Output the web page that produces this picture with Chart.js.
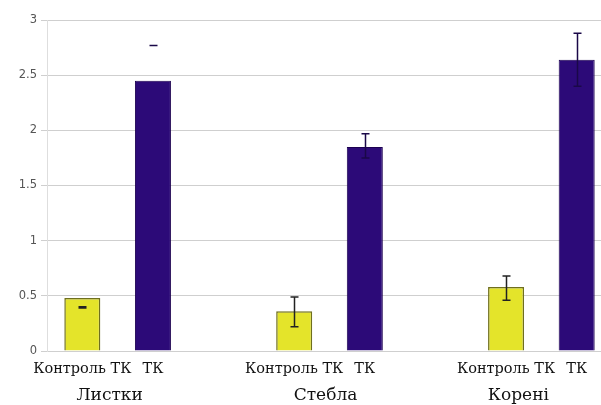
<!DOCTYPE html>
<html><head><meta charset="utf-8">
<script src="https://cdn.jsdelivr.net/npm/chart.js@4"></script>
<style>html,body{margin:0;padding:0;background:#fff;overflow:hidden;width:601px;height:405px}</style>
</head><body><canvas id="c" width="612" height="405"></canvas>
<script>
const groups = ['Листки', 'Стебла', 'Корені'];
const seriesNames = ['Контроль ТК', 'ТК'];
const controlValues = [0.48, 0.36, 0.58];
const tkValues = [2.45, 1.85, 2.64];
const controlErrLow = [0.39, 0.22, 0.46];
const controlErrHigh = [0.40, 0.49, 0.68];
const tkErrLow = [2.77, 1.75, 2.40];
const tkErrHigh = [2.77, 1.97, 2.88];
const yTickLabels = ['0', '0.5', '1', '1.5', '2', '2.5', '3'];

// layout constants
const groupLabelNudge = [-8, -4, -23];

// build 8 slots: control, tk, gap, control, tk, gap, control, tk
const slotLabels = [], ctrlData = [], tkData = [], ctrlLo = [], ctrlHi = [], tkLo = [], tkHi = [];
groups.forEach((g, i) => {
  slotLabels.push(seriesNames[0]); ctrlData.push(controlValues[i]); tkData.push(null);
  ctrlLo.push(controlErrLow[i]); ctrlHi.push(controlErrHigh[i]); tkLo.push(null); tkHi.push(null);
  slotLabels.push(seriesNames[1]); ctrlData.push(null); tkData.push(tkValues[i]);
  ctrlLo.push(null); ctrlHi.push(null); tkLo.push(tkErrLow[i]); tkHi.push(tkErrHigh[i]);
  if (i < groups.length - 1) {
    slotLabels.push(''); ctrlData.push(null); tkData.push(null);
    ctrlLo.push(null); ctrlHi.push(null); tkLo.push(null); tkHi.push(null);
  }
});

const errorBars = {
  id: 'errorBars',
  afterDatasetsDraw(chart) {
    const ctx = chart.ctx, y = chart.scales.y;
    const errs = [[ctrlLo, ctrlHi], [tkLo, tkHi]];
    chart.data.datasets.forEach((ds, di) => {
      const meta = chart.getDatasetMeta(di);
      meta.data.forEach((el, j) => {
        const lo = errs[di][0][j], hi = errs[di][1][j];
        if (lo == null || ds.data[j] == null) return;
        const x = Math.round(el.x) + 0.5;
        const yl = y.getPixelForValue(lo), yh = y.getPixelForValue(hi);
        ctx.save();
        ctx.strokeStyle = di === 0 ? '#222' : '#1a0848';
        ctx.lineWidth = 1.5;
        ctx.beginPath();
        ctx.moveTo(x, yl); ctx.lineTo(x, yh);
        ctx.moveTo(x - 4, yl); ctx.lineTo(x + 4, yl);
        ctx.moveTo(x - 4, yh); ctx.lineTo(x + 4, yh);
        ctx.stroke();
        ctx.restore();
      });
    });
  }
};

const groupLabels = {
  id: 'groupLabels',
  afterDraw(chart) {
    const ctx = chart.ctx, xs = chart.scales.x;
    ctx.save();
    ctx.font = '17px "DejaVu Serif"';
    ctx.fillStyle = '#111';
    ctx.textAlign = 'center';
    ctx.textBaseline = 'middle';
    groups.forEach((g, i) => {
      const x = (xs.getPixelForValue(3 * i) + xs.getPixelForValue(3 * i + 1)) / 2 + groupLabelNudge[i];
      ctx.fillText(g, x, 396);
    });
    ctx.restore();
  }
};

new Chart(document.getElementById('c'), {
  type: 'bar',
  data: {
    labels: slotLabels,
    datasets: [
      { label: seriesNames[0], data: ctrlData, backgroundColor: '#e4e42a', borderColor: '#6f6f1e', borderWidth: 1.5 },
      { label: seriesNames[1], data: tkData, backgroundColor: '#2c0a78', borderColor: '#1c0050', borderWidth: 1 }
    ]
  },
  options: {
    responsive: false,
    animation: false,
    devicePixelRatio: 1,
    layout: { padding: { top: 20, left: 0, right: 0, bottom: 0 } },
    plugins: { legend: { display: false }, tooltip: { enabled: false } },
    datasets: { bar: { grouped: false, categoryPercentage: 1, barPercentage: 0.51 } },
    scales: {
      x: {
        grid: { display: false },
        border: { display: false },
        ticks: { color: '#111', font: { family: '"DejaVu Serif"', size: 14.5 }, padding: 2, maxRotation: 0, autoSkip: false },
        afterFit(s) { s.height = 54; }
      },
      y: {
        min: 0, max: 3,
        grid: { color: '#cfcfcf', tickLength: 6 },
        border: { color: '#dedede' },
        ticks: { stepSize: 0.5, color: '#555', font: { family: '"DejaVu Sans"', size: 11.5 }, padding: 4,
          callback: (v, i) => yTickLabels[i] },
        afterFit(s) { s.width = 47; }
      }
    }
  },
  plugins: [errorBars, groupLabels]
});
</script></body></html>
